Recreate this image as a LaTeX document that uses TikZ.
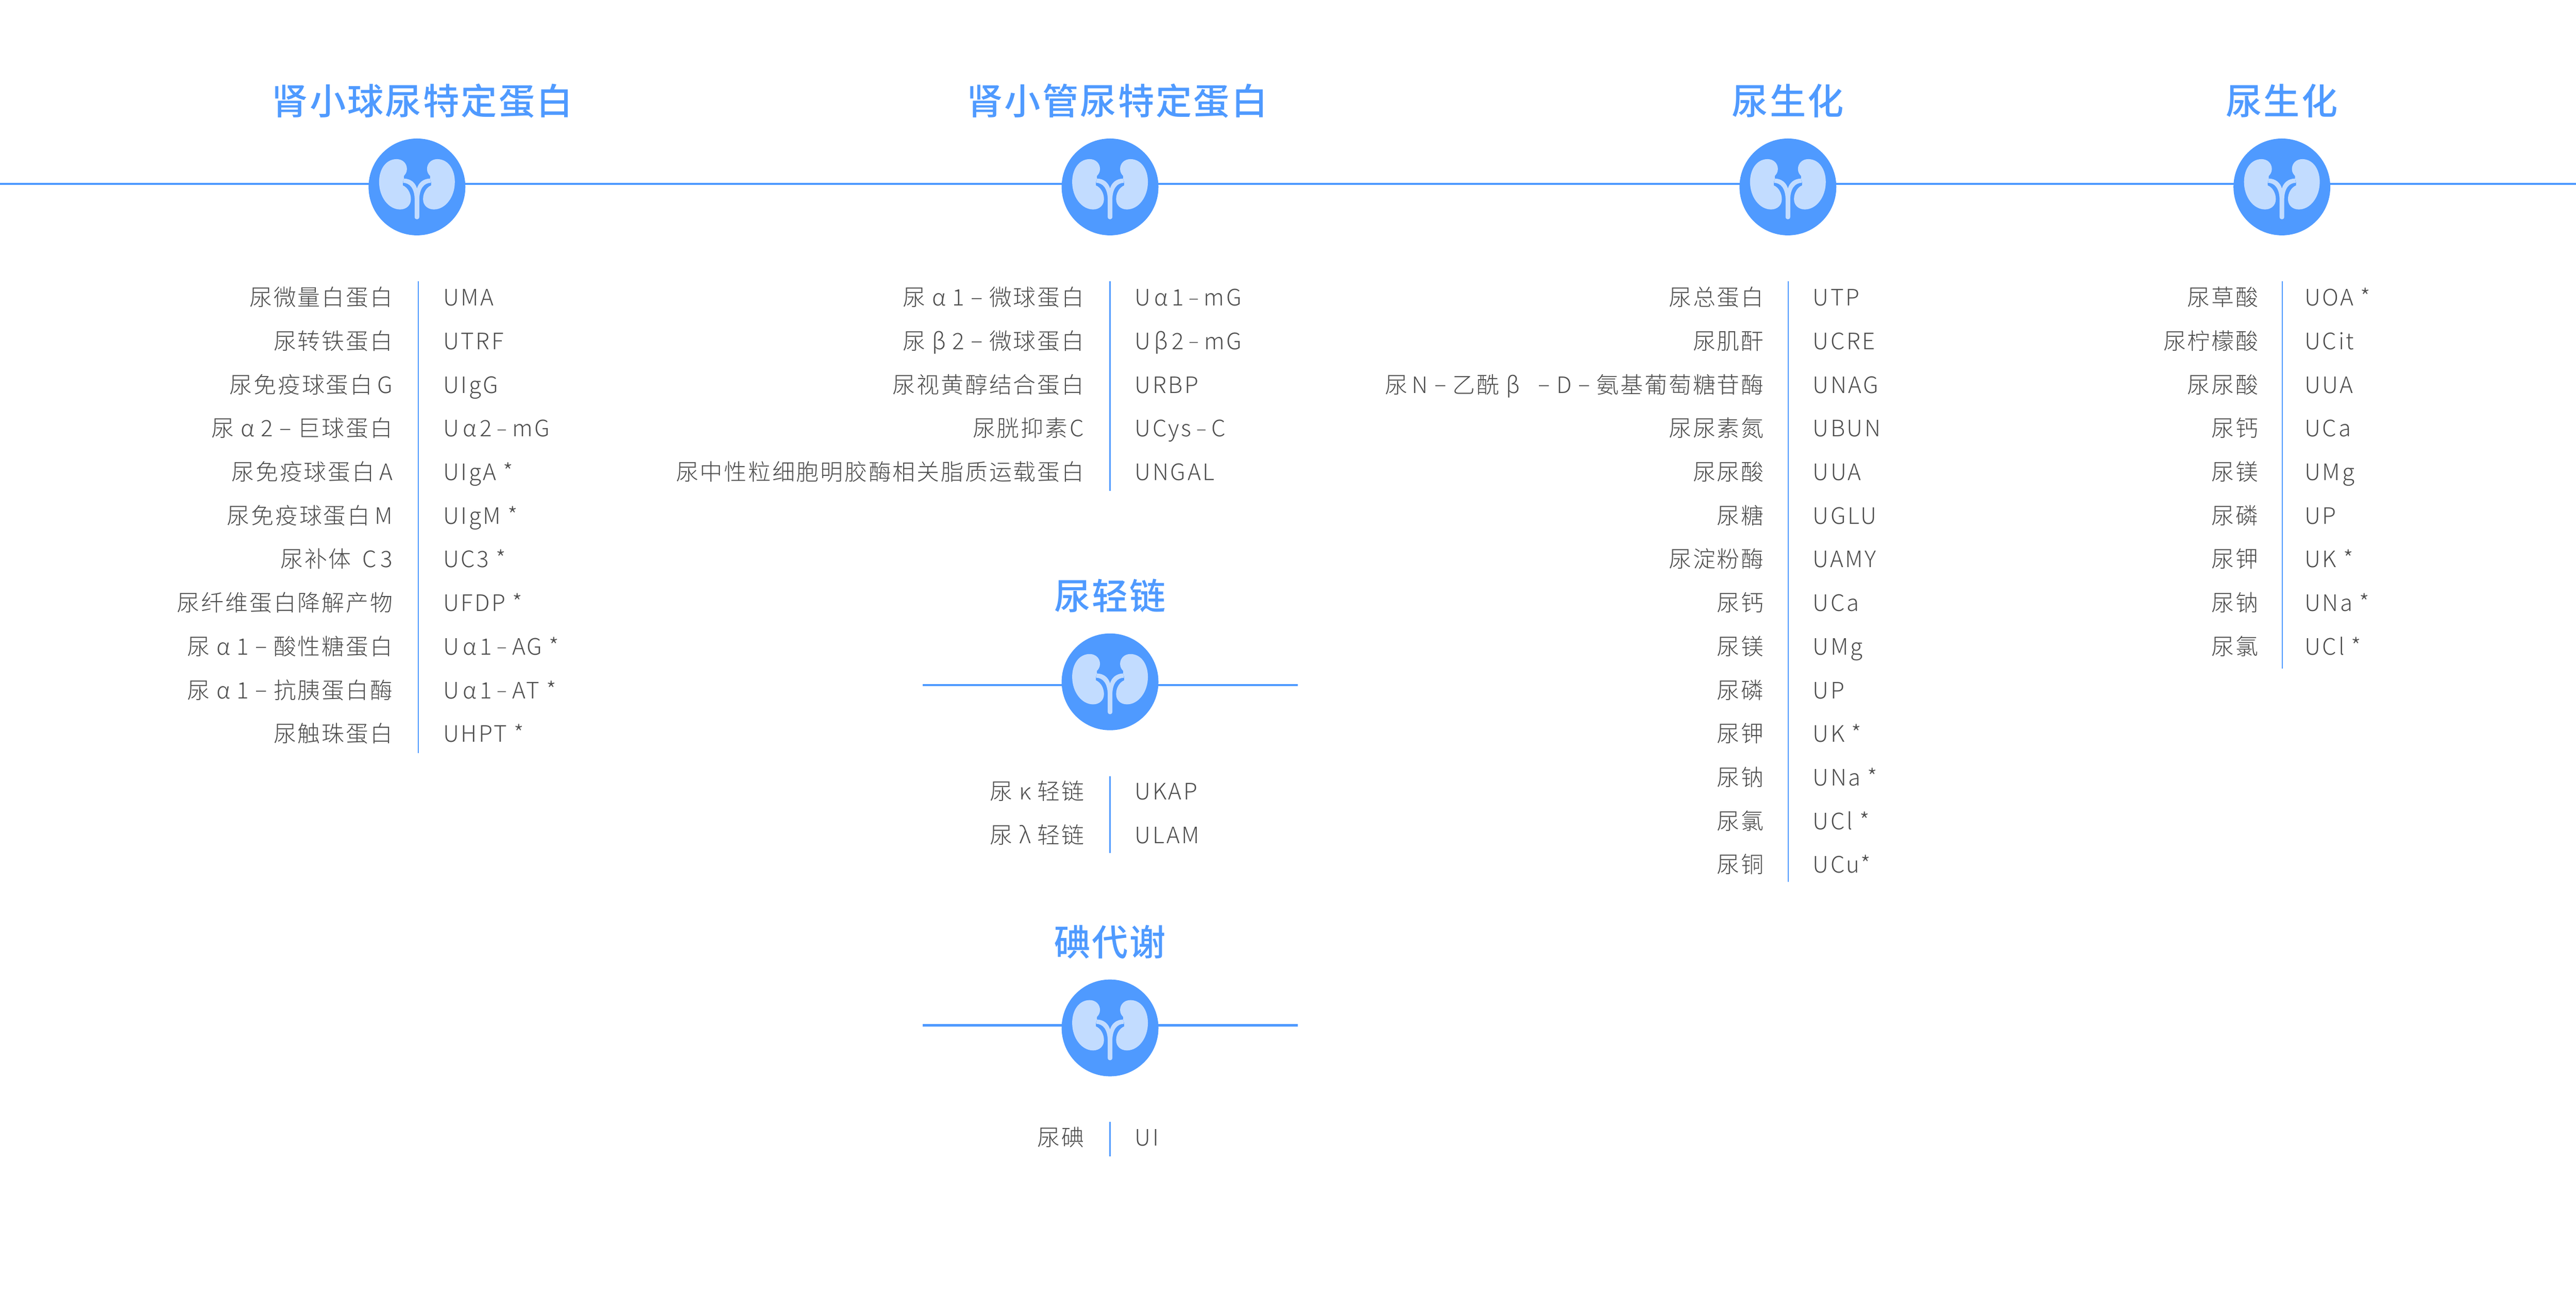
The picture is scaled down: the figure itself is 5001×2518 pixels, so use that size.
\documentclass[tikz,border=0pt]{standalone}
\usepackage{fontspec}
\usepackage{xcolor}
\usetikzlibrary{positioning}
\newfontfamily\cnfont[LetterSpace=6.5]{Noto Sans CJK SC Light}
\newfontfamily\enfont[LetterSpace=8]{Noto Sans CJK SC Light}
\newfontfamily\titlefont[LetterSpace=4.5]{Noto Sans CJK SC Medium}
\definecolor{kblue}{HTML}{4F9AFF}
\definecolor{kpale}{HTML}{C2DCFF}
\definecolor{ktext}{HTML}{4D4D4D}
\newcommand{\lf}[1]{{\enfont #1}}
\newcommand{\lgk}[1]{\hspace{.3em}#1\hspace{.28em}}
\newcommand{\rgk}[1]{\hspace{.16em}#1\hspace{.16em}}
\newcommand{\ldash}{\hspace{.28em}\raisebox{1pt}{–}\hspace{.28em}}
\newcommand{\rdash}{\hspace{.22em}\raisebox{1.5pt}{\fontsize{21pt}{21pt}\selectfont –}\hspace{.22em}}
\tikzset{
  kbadge/.style={circle,fill=kblue,minimum size=3.76cm,inner sep=0pt},
  titletxt/.style={font=\titlefont\fontsize{40pt}{40pt}\selectfont,text=kblue,inner sep=0pt,anchor=base},
  lname/.style={font=\cnfont\fontsize{25pt}{25pt}\selectfont,text=ktext,inner sep=0pt,anchor=base east},
  rname/.style={font=\enfont\fontsize{25pt}{25pt}\selectfont,text=ktext,inner sep=0pt,anchor=base west},
  mainline/.style={draw=kblue,line width=2.5pt},
  divline/.style={draw=kblue,line width=1.3pt},
  kidney/.pic={
    \foreach \s in {1,-1} {
      \fill[kpale,xscale=\s] (-39.5,-54) .. controls (-28,-54) and (-19.5,-46) .. (-19.5,-34.7)
        .. controls (-19.5,-28) and (-23,-24) .. (-25.5,-21.3) -- (-25.5,-16) -- (-27.5,-8.5) -- (-27.5,-3)
        .. controls (-18,1) and (-11.8,12) .. (-11.8,23.7)
        .. controls (-11.8,36) and (-21,43.7) .. (-32.8,43.7)
        .. controls (-55,43.7) and (-73.5,20) .. (-73.5,-9.7)
        .. controls (-73.5,-35) and (-60,-54) .. (-39.5,-54) -- cycle;
    }
    \fill[kpale] (-25.5,-16.3) .. controls (-12,-16) and (-3,-8) .. (0,3)
      .. controls (3,-8) and (12,-16) .. (25.5,-16.3) -- (27,-8)
      .. controls (14,-8) and (4.5,3) .. (4.5,25) -- (4.5,58)
      .. controls (4.5,64.5) and (-4.5,64.5) .. (-4.5,58) -- (-4.5,25)
      .. controls (-4.5,3) and (-14,-8) .. (-27,-8) -- cycle;
  }
}
\newcommand{\rowsof}[5]{%
  \foreach \cn/\en [count=\i from 0] in {#5} {
    \node[lname] (#1l\i) at (#2,{#4+84.7*\i}) {\cn};
    \node[rname] (#1r\i) at (#3,{#4+84.7*\i}) {\en};
  }
}
\begin{document}
\begin{tikzpicture}[x=0.02cm,y=-0.02cm]
  \useasboundingbox (0,0) rectangle (5001,2518);
  \coordinate (leftend) at (0,357);
  \coordinate (rightend) at (5001,357);
  \coordinate (kaleft) at (1791,1330);
  \coordinate (karight) at (2519,1330);
  \coordinate (ileft) at (1791,1991);
  \coordinate (iright) at (2519,1991);
  \draw[mainline] (leftend) -- (rightend);
  \draw[mainline] (kaleft) -- (karight);
  \draw[mainline] (ileft) -- (iright);
  \node[kbadge] (glom) at (809.5,363) {};
  \node[kbadge] (tub) at (2155,363) {};
  \node[kbadge] (bioa) at (3471,363) {};
  \node[kbadge] (biob) at (4430,363) {};
  \node[kbadge] (kap) at (2155,1324) {};
  \node[kbadge] (iod) at (2155,1996) {};
  \pic at (glom) {kidney};
  \pic at (tub) {kidney};
  \pic at (bioa) {kidney};
  \pic at (biob) {kidney};
  \pic at (kap) {kidney};
  \pic at (iod) {kidney};
  \node[titletxt] (glomt) at (820,223) {肾小球尿特定蛋白};
  \node[titletxt] (tubt) at (2169,223) {肾小管尿特定蛋白};
  \node[titletxt] (bioat) at (3471,223) {尿生化};
  \node[titletxt] (biobt) at (4430,223) {尿生化};
  \node[titletxt] (kapt) at (2155,1184) {尿轻链};
  \node[titletxt] (iodt) at (2155,1856) {碘代谢};
  \rowsof{a}{762.5}{860}{594}{尿微量白蛋白/UMA,尿转铁蛋白/UTRF,尿免疫球蛋白\hspace{.2em}\lf{G}/UIgG,尿\lf{\lgk{α}2\ldash}巨球蛋白/U\rgk{α}2\rdash mG,尿免疫球蛋白\hspace{.2em}\lf{A}/UIgA *,尿免疫球蛋白\hspace{.2em}\lf{M}/UIgM *,尿补体\hspace{.5em}\lf{C\thinspace 3}/UC3 *,尿纤维蛋白降解产物/UFDP *,尿\lf{\lgk{α}1\ldash}酸性糖蛋白/U\rgk{α}1\rdash AG *,尿\lf{\lgk{α}1\ldash}抗胰蛋白酶/U\rgk{α}1\rdash AT *,尿触珠蛋白/UHPT *}
  \rowsof{b}{2105}{2203}{594}{尿\lf{\lgk{α}1\ldash}微球蛋白/U\rgk{α}1\rdash mG,尿\lf{\lgk{β}2\ldash}微球蛋白/U\rgk{β}2\rdash mG,尿视黄醇结合蛋白/URBP,尿胱抑素\hspace{.1em}\lf{C}/UCys\rdash C,尿中性粒细胞明胶酶相关脂质运载蛋白/UNGAL}
  \rowsof{c}{3424.5}{3519}{594}{尿总蛋白/UTP,尿肌酐/UCRE,尿\hspace{.2em}\lf{N\ldash}乙酰\lf{\lgk{β}\hspace{.25em}\ldash D\ldash}氨基葡萄糖苷酶/UNAG,尿尿素氮/UBUN,尿尿酸/UUA,尿糖/UGLU,尿淀粉酶/UAMY,尿钙/UCa,尿镁/UMg,尿磷/UP,尿钾/UK *,尿钠/UNa *,尿氯/UCl *,尿铜/UCu*}
  \rowsof{d}{4384.5}{4474}{594}{尿草酸/UOA *,尿柠檬酸/UCit,尿尿酸/UUA,尿钙/UCa,尿镁/UMg,尿磷/UP,尿钾/UK *,尿钠/UNa *,尿氯/UCl *}
  \rowsof{e}{2105}{2203}{1553}{尿\lf{\lgk{κ}}轻链/UKAP,尿\lf{\lgk{λ}}轻链/ULAM}
  \rowsof{f}{2105}{2203}{2225}{尿碘/UI}
  \coordinate (adivt) at (812,546);
  \coordinate (adivb) at (812,1462);
  \coordinate (bdivt) at (2155,546);
  \coordinate (bdivb) at (2155,953);
  \coordinate (cdivt) at (3472,546);
  \coordinate (cdivb) at (3472,1712);
  \coordinate (ddivt) at (4431,546);
  \coordinate (ddivb) at (4431,1298);
  \coordinate (edivt) at (2155,1507);
  \coordinate (edivb) at (2155,1656);
  \coordinate (fdivt) at (2155,2178);
  \coordinate (fdivb) at (2155,2245);
  \draw[divline] (adivt) -- (adivb);
  \draw[divline] (bdivt) -- (bdivb);
  \draw[divline] (cdivt) -- (cdivb);
  \draw[divline] (ddivt) -- (ddivb);
  \draw[divline] (edivt) -- (edivb);
  \draw[divline] (fdivt) -- (fdivb);
\end{tikzpicture}
\end{document}
